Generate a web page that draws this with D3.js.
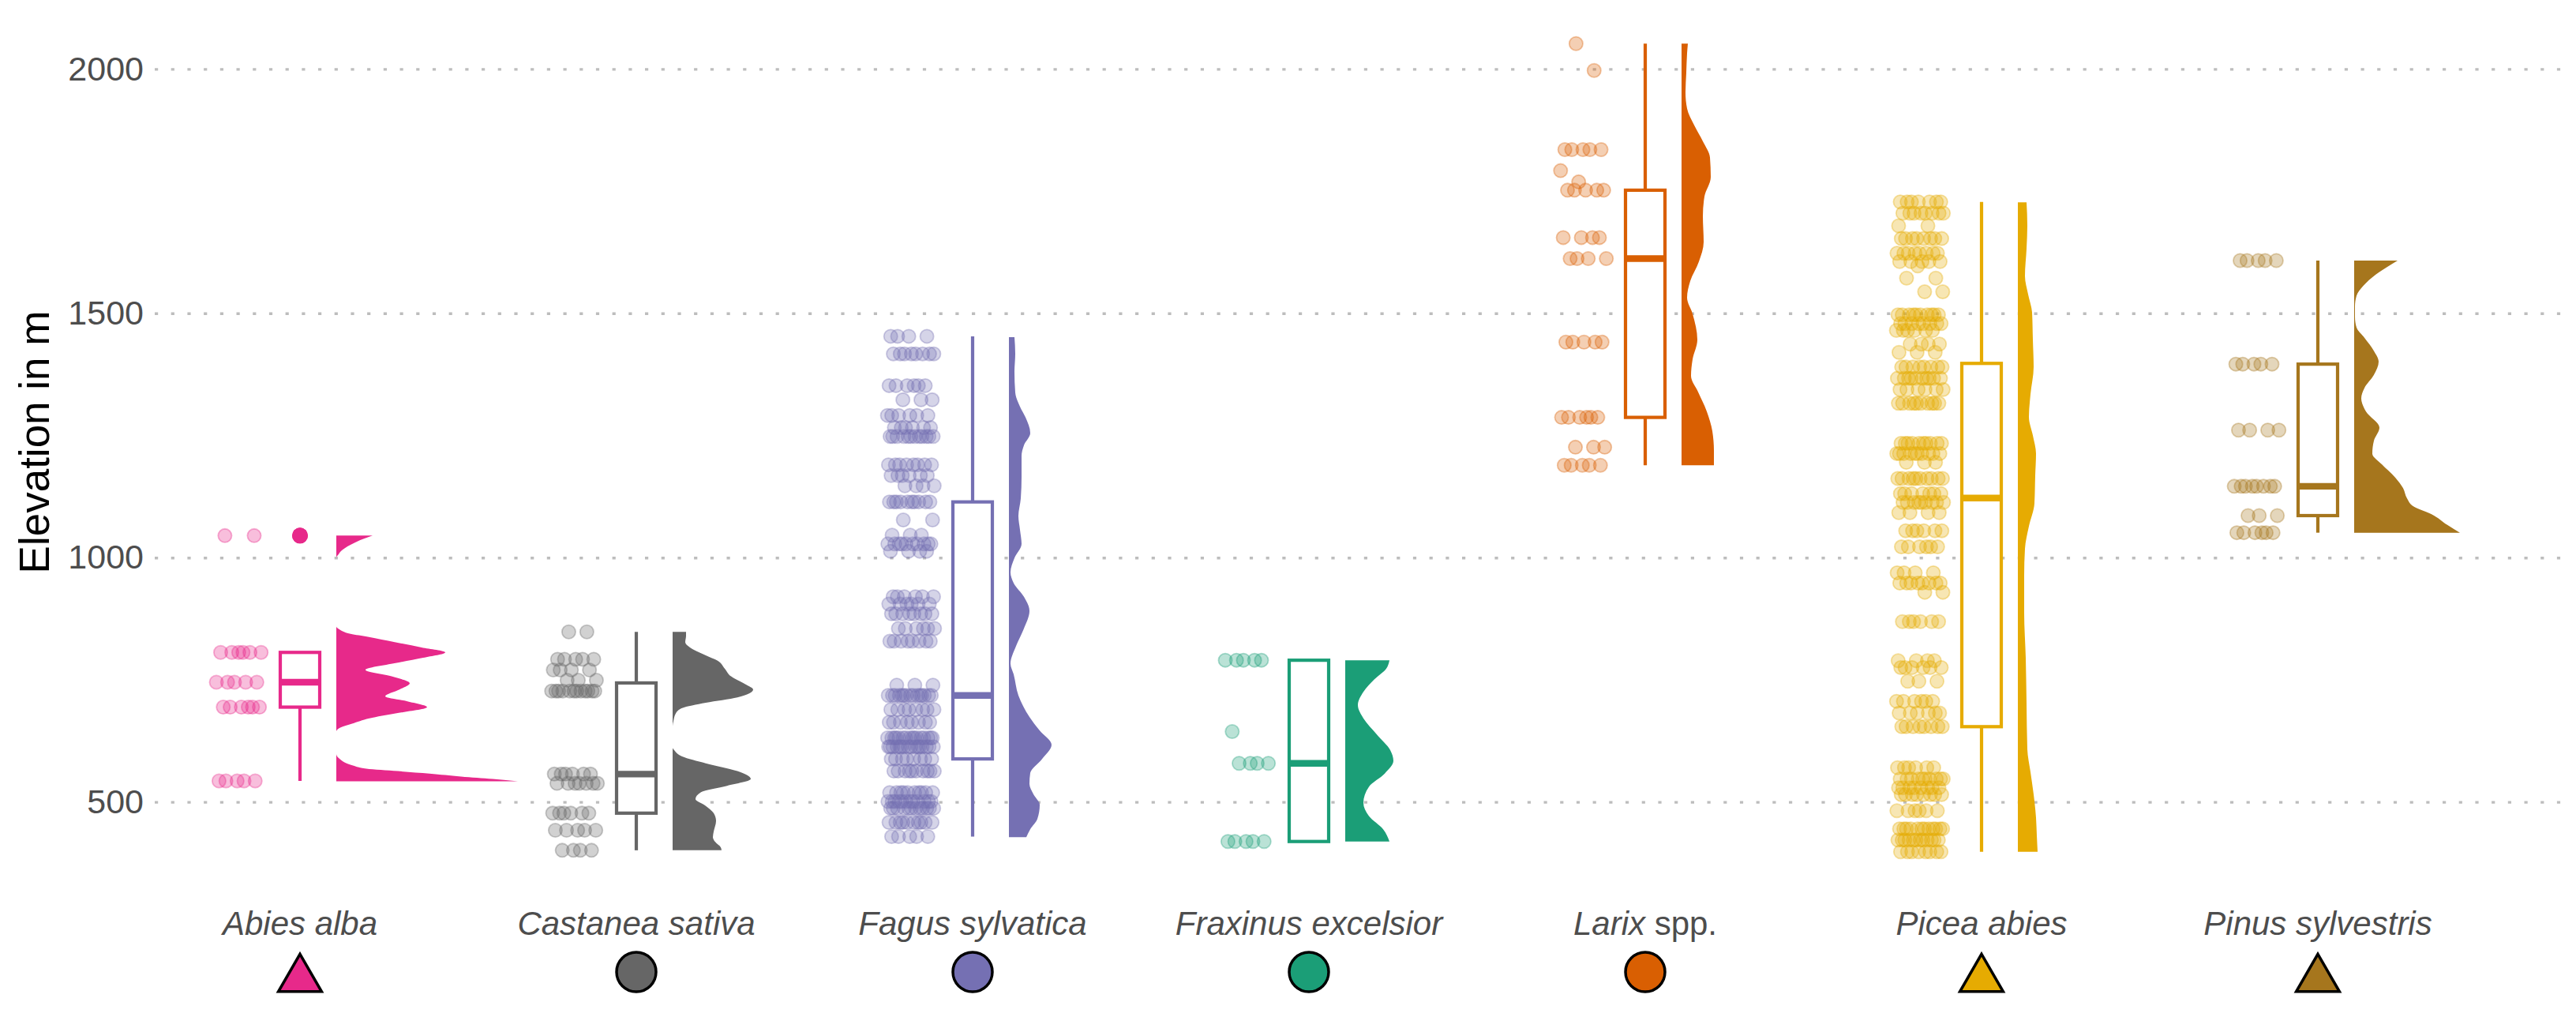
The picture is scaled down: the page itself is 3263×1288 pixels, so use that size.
<!DOCTYPE html>
<html>
<head>
<meta charset="utf-8">
<script src="https://cdn.jsdelivr.net/npm/d3@7"></script>
<style>
  body { margin: 0; background: #fff; }
  svg { display: block; font-family: "Liberation Sans", Arial, sans-serif; }
</style>
</head>
<body>
<svg id="chart" width="3263" height="1288"></svg>
<script>
const species = ['Abies alba', 'Castanea sativa', 'Fagus sylvatica', 'Fraxinus excelsior', 'Larix spp.', 'Picea abies', 'Pinus sylvestris']
const labelItalic = ['Abies alba', 'Castanea sativa', 'Fagus sylvatica', 'Fraxinus excelsior', 'Larix', 'Picea abies', 'Pinus sylvestris']
const labelPlain = ['', '', '', '', ' spp.', '', '']
const colors = ['#E7298A', '#666666', '#7570B3', '#1B9E77', '#D95F02', '#E6AB02', '#A6761D']
const legendShapes = ['triangle', 'circle', 'circle', 'circle', 'circle', 'triangle', 'triangle']
const yTicks = [500, 1000, 1500, 2000]

// plot elevations: [elevation in m, number of plots at that elevation]
const abiesRows = [[543, 5], [694, 6], [745, 5], [806, 6], [1045, 2]]
const castaneaRows = [[401, 4], [442, 5], [477, 6], [538, 7], [557, 6], [727, 12], [749, 3], [770, 4], [792, 5], [848, 2]]
const fagusRows = [[429, 5], [458, 10], [487, 12], [501, 12], [519, 10], [563, 10], [588, 8], [613, 16], [631, 16],
  [663, 8], [689, 8], [718, 15], [739, 3], [829, 8], [855, 6], [885, 8], [905, 6], [920, 6], [1013, 4], [1028, 10],
  [1046, 3], [1077, 2], [1114, 10], [1147, 4], [1168, 6], [1190, 8], [1248, 12], [1266, 6], [1291, 6], [1323, 3],
  [1352, 6], [1417, 8], [1453, 4]]
const fraxinusRows = [[419, 5], [579, 4], [644, 1], [790, 5]]
const larixRows = [[1189, 5], [1226, 3], [1287, 6], [1441, 5], [1612, 4], [1655, 4], [1752, 5], [1769, 1],
  [1792, 1], [1835, 5], [1997, 1], [2052, 1]]
const piceaRows = [[398, 8], [422, 12], [445, 12], [482, 6], [515, 8], [529, 8], [547, 10], [570, 6], [654, 8],
  [682, 6], [706, 6], [747, 3], [775, 6], [789, 4], [869, 6], [929, 2], [948, 8], [969, 4], [1022, 6], [1055, 6],
  [1092, 4], [1113, 9], [1131, 7], [1162, 10], [1195, 3], [1213, 10], [1234, 10], [1316, 10], [1344, 6], [1367, 10],
  [1390, 8], [1420, 3], [1437, 4], [1465, 6], [1479, 8], [1497, 10], [1544, 2], [1572, 2], [1597, 1], [1606, 5],
  [1623, 8], [1653, 8], [1679, 2], [1705, 8], [1728, 7]]
const pinusRows = [[1051, 6], [1086, 3], [1146, 8], [1261, 4], [1396, 5], [1608, 5]]

// density outline of each species: [elevation in m, density (relative units)]
const abiesDensity = [[542, 230], [547, 198], [552, 158], [558, 118], [563, 78], [568, 38], [574, 22], [579, 13],
  [587, 5], [598, 0], [644, 0], [652, 5], [660, 20], [671, 42], [681, 75], [694, 115], [706, 90], [716, 62],
  [730, 80], [743, 93], [757, 70], [770, 37], [784, 75], [795, 110], [806, 138], [816, 108], [827, 74], [838, 40],
  [844, 18], [854, 3], [859, 0], [1000, 0], [1005, 2], [1015, 7], [1032, 25], [1045, 46]]
const castaneaDensity = [[401, 62], [407, 61], [418, 54], [428, 51], [439, 52], [461, 55], [477, 52], [493, 41],
  [506, 29], [520, 36], [533, 69], [547, 99], [563, 82], [579, 42], [593, 12], [606, 2], [611, 0], [655, 0],
  [665, 1], [681, 4], [692, 12], [703, 42], [714, 82], [730, 102], [741, 92], [757, 74], [773, 66], [789, 57],
  [800, 42], [816, 22], [827, 16], [840, 17], [848, 17]]
const fagusDensity = [[428, 22], [444, 27], [465, 36], [494, 39], [516, 31], [537, 26], [559, 27], [588, 42],
  [617, 54], [646, 39], [674, 26], [718, 12], [761, 6], [783, 2], [819, 9], [855, 19], [891, 26], [920, 19],
  [948, 6], [970, 2], [999, 7], [1028, 16], [1057, 14], [1085, 12], [1121, 15], [1165, 16], [1208, 16], [1230, 19],
  [1255, 27], [1287, 21], [1309, 14], [1338, 8], [1381, 7], [1417, 8], [1451, 7]]
const fraxinusDensity = [[419, 56], [444, 48], [471, 30], [498, 23], [531, 30], [558, 50], [584, 61], [606, 57],
  [638, 40], [671, 23], [698, 16], [725, 23], [751, 37], [773, 52], [790, 56]]
const larixDensity = [[1189, 41], [1219, 41], [1259, 39], [1299, 32], [1339, 21], [1372, 12], [1406, 14],
  [1446, 20], [1499, 14], [1532, 7], [1566, 11], [1606, 22], [1646, 28], [1699, 27], [1739, 29], [1779, 37],
  [1819, 36], [1852, 27], [1885, 16], [1919, 7], [1952, 5], [1992, 6], [2032, 7], [2052, 8]]
const piceaDensity = [[398, 25], [431, 24], [468, 23], [515, 20], [561, 16], [608, 12], [701, 11], [794, 10],
  [887, 8], [962, 8], [1018, 9], [1064, 14], [1111, 21], [1167, 22], [1213, 23], [1250, 19], [1288, 14],
  [1334, 16], [1390, 20], [1446, 19], [1502, 18], [1539, 13], [1576, 9], [1632, 11], [1679, 12], [1727, 11]]
const pinusDensity = [[1051, 134], [1067, 118], [1089, 98], [1105, 75], [1121, 67], [1142, 62], [1164, 52],
  [1191, 35], [1213, 23], [1239, 25], [1266, 32], [1299, 15], [1326, 9], [1347, 13], [1374, 25], [1401, 31],
  [1423, 25], [1450, 13], [1471, 3], [1493, 1], [1514, 1], [1536, 3], [1557, 12], [1579, 27], [1595, 42], [1608, 55]]

const elevationRows = [abiesRows, castaneaRows, fagusRows, fraxinusRows, larixRows, piceaRows, pinusRows]
const densities = [abiesDensity, castaneaDensity, fagusDensity, fraxinusDensity, larixDensity, piceaDensity, pinusDensity]

const svg = d3.select('#chart')

const x = d3.scalePoint().domain(species).range([380, 2936])
const y = d3.scaleLinear().domain([500, 2000]).range([1015.6, 87.4])
const densityWidth = d3.scaleLinear().domain([0, 230]).range([0, 230])

const gridLeft = 196
const gridRight = 3250

// y axis with dotted grid lines
svg.append('g')
  .attr('transform', `translate(${gridLeft},0)`)
  .call(d3.axisLeft(y)
    .tickValues(yTicks)
    .tickFormat(d3.format('d'))
    .tickSize(-(gridRight - gridLeft))
    .tickPadding(14))
  .attr('font-size', 43)
  .attr('font-family', '"Liberation Sans", Arial, sans-serif')
  .call(g => g.select('.domain').remove())
  .call(g => g.selectAll('.tick line')
    .attr('stroke', '#BDBDBD')
    .attr('stroke-width', 3.4)
    .attr('stroke-dasharray', '4.2 16.5'))
  .call(g => g.selectAll('.tick text').attr('fill', '#4D4D4D'))

svg.append('text')
  .attr('transform', 'translate(62,560) rotate(-90)')
  .attr('text-anchor', 'middle')
  .attr('font-size', 53)
  .attr('fill', '#000')
  .text('Elevation in m')

function boxStats (values) {
  const v = values.slice().sort(d3.ascending)
  const q1 = d3.quantileSorted(v, 0.25)
  const med = d3.quantileSorted(v, 0.5)
  const q3 = d3.quantileSorted(v, 0.75)
  const iqr = q3 - q1
  const lo = d3.min(v.filter(d => d >= q1 - 1.5 * iqr))
  const hi = d3.max(v.filter(d => d <= q3 + 1.5 * iqr))
  const outliers = v.filter(d => d < lo || d > hi)
  return {q1, med, q3, lo, hi, outliers}
}

const boxHalf = 25
const violinGap = 46
const cloudCenter = -78
const cloudHalf = 30

species.forEach((s, i) => {
  const c = x(s)
  const color = colors[i]
  const values = elevationRows[i].flatMap(([e, n]) => d3.range(n).map(() => e))
  const g = svg.append('g')

  // half violin
  const area = d3.area()
    .curve(d3.curveMonotoneY)
    .y(d => y(d[0]))
    .x0(c + violinGap)
    .x1(d => c + violinGap + densityWidth(d[1]))
  g.append('path')
    .datum(densities[i].slice().sort((a, b) => a[0] - b[0]))
    .attr('d', area)
    .attr('fill', color)

  // boxplot
  const st = boxStats(values)
  g.append('line')
    .attr('x1', c).attr('x2', c)
    .attr('y1', y(st.q3)).attr('y2', y(st.hi))
    .attr('stroke', color).attr('stroke-width', 4.2)
  g.append('line')
    .attr('x1', c).attr('x2', c)
    .attr('y1', y(st.q1)).attr('y2', y(st.lo))
    .attr('stroke', color).attr('stroke-width', 4.2)
  g.append('rect')
    .attr('x', c - boxHalf)
    .attr('y', y(st.q3))
    .attr('width', boxHalf * 2)
    .attr('height', y(st.q1) - y(st.q3))
    .attr('fill', '#fff')
    .attr('stroke', color)
    .attr('stroke-width', 4.2)
  g.append('line')
    .attr('x1', c - boxHalf).attr('x2', c + boxHalf)
    .attr('y1', y(st.med)).attr('y2', y(st.med))
    .attr('stroke', color).attr('stroke-width', 8.4)
  g.selectAll('circle.outlier')
    .data(st.outliers)
    .enter()
    .append('circle')
    .attr('class', 'outlier')
    .attr('cx', c)
    .attr('cy', d => y(d))
    .attr('r', 10)
    .attr('fill', color)

  // jittered raw points (deterministic spread)
  g.selectAll('circle.pt')
    .data(values)
    .enter()
    .append('circle')
    .attr('class', 'pt')
    .attr('cx', (d, j) => c + cloudCenter + ((((j + 1) * 0.6180339887) % 1) - 0.5) * 2 * cloudHalf)
    .attr('cy', d => y(d))
    .attr('r', 8.6)
    .attr('fill', color)
    .attr('fill-opacity', 0.3)
    .attr('stroke', color)
    .attr('stroke-opacity', 0.35)
    .attr('stroke-width', 1.8)

  // category label
  const label = svg.append('text')
    .attr('x', c)
    .attr('y', 1184)
    .attr('text-anchor', 'middle')
    .attr('font-size', 42)
    .attr('fill', '#4D4D4D')
  label.append('tspan').attr('font-style', 'italic').text(labelItalic[i])
  if (labelPlain[i]) label.append('tspan').text(labelPlain[i])

  // shape key under the label
  const isTri = legendShapes[i] === 'triangle'
  svg.append('path')
    .attr('transform', `translate(${c},${isTri ? 1240 : 1231})`)
    .attr('d', d3.symbol().type(isTri ? d3.symbolTriangle : d3.symbolCircle).size(isTri ? 1300 : 1963)())
    .attr('fill', color)
    .attr('stroke', '#000')
    .attr('stroke-width', 3.5)
})
</script>
</body>
</html>
